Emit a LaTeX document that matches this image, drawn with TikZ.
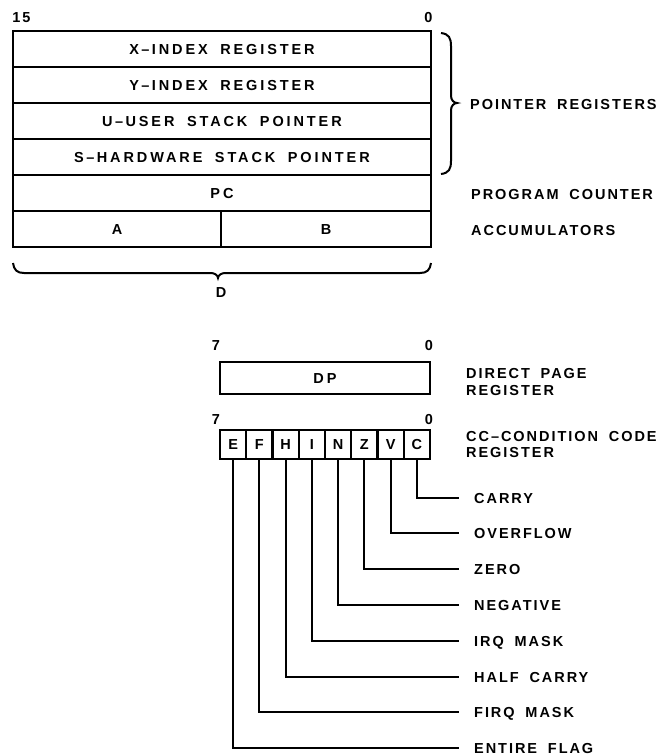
\documentclass[tikz,border=0pt]{standalone}
\usepackage{fontspec}
\setmainfont{Liberation Sans}[LetterSpace=13.5,WordSpace=1.8]
\begin{document}
\begin{tikzpicture}[x=1pt,y=-1pt,
  lbl/.style={font=\bfseries\fontsize{14.5}{17}\selectfont, inner sep=0pt, text height=10.4pt, text depth=0pt},
  reg/.style={draw, line width=2.2pt, lbl, font=\bfseries\fontsize{14.5}{17}\selectfont\addfontfeature{LetterSpace=20}},
  conn/.style={line width=2pt},
  brc/.style={line width=2pt}]
\path[use as bounding box] (0,0) rectangle (662,756);

% 16-bit registers
\node[lbl] (n15) at (21.5,17.5) {15};
\node[lbl] (n0a) at (428.5,17.5) {0};
\node[reg, minimum width=418pt, minimum height=36pt] (X) at (222,49) {X\,–\,INDEX REGISTER};
\node[reg, minimum width=418pt, minimum height=36pt] (Y) at (222,85) {Y\,–\,INDEX REGISTER};
\node[reg, minimum width=418pt, minimum height=36pt] (U) at (222,121) {U\,–\,USER STACK POINTER};
\node[reg, minimum width=418pt, minimum height=36pt] (S) at (222,157) {S\,–\,HARDWARE STACK POINTER};
\node[reg, minimum width=418pt, minimum height=36pt] (PC) at (222,193) {PC};
\node[reg, minimum width=208pt, minimum height=36pt] (A) at (117,229) {A};
\node[reg, minimum width=210pt, minimum height=36pt] (B) at (326,229) {B};

% braces
\draw[brc] (441,33) .. controls (449,34) and (451,38) .. (451,46) -- (451,96)
  .. controls (451,100) and (454,103) .. (457,103)
  .. controls (454,103) and (451,106) .. (451,110) -- (451,161)
  .. controls (451,169) and (449,173) .. (441,174);
\draw[brc] (13,263) .. controls (14,270) and (17,273) .. (24,273) -- (211,273)
  .. controls (214,273) and (218,275) .. (218,278)
  .. controls (218,275) and (222,273) .. (225,273) -- (420,273)
  .. controls (427,273) and (430,270) .. (431,263);
\node[lbl] (Dl) at (221,292) {D};

\node[lbl, anchor=west] (ptr) at (470,104) {POINTER REGISTERS};
\node[lbl, anchor=west] (pcl) at (471,194) {PROGRAM COUNTER};
\node[lbl, anchor=west] (accl) at (471,230) {ACCUMULATORS};

% DP register
\node[lbl] (n7a) at (216,345) {7};
\node[lbl] (n0b) at (429,345) {0};
\node[reg, minimum width=210pt, minimum height=32pt] (DP) at (325,378) {DP};
\node[lbl, anchor=west] (dpl1) at (466,373) {DIRECT PAGE};
\node[lbl, anchor=west] (dpl2) at (466,390) {REGISTER};

% CC register
\node[lbl] (n7b) at (216,419) {7};
\node[lbl] (n0c) at (429,419) {0};
\foreach \l [count=\i from 0] in {E,F,H,I,N,Z,V,C}
  \node[reg, minimum width=26.25pt, minimum height=29pt] (c\l) at ({220+26.25*(\i+0.5)},444.5) {\l};
\node[lbl, anchor=west] (ccl1) at (466,436) {CC–CONDITION CODE};
\node[lbl, anchor=west] (ccl2) at (466,452) {REGISTER};

\foreach \l/\y/\t in {C/498/CARRY, V/533/OVERFLOW, Z/569/ZERO, N/605/NEGATIVE,
                      I/641/IRQ MASK, H/677/HALF CARRY, F/712/FIRQ MASK, E/748/ENTIRE FLAG} {
  \node[lbl, anchor=west] (t\l) at (474,\y) {\t};
  \coordinate (e\l) at (459,\y);
  \draw[conn] (c\l.south) |- (e\l);
}
\end{tikzpicture}
\end{document}
